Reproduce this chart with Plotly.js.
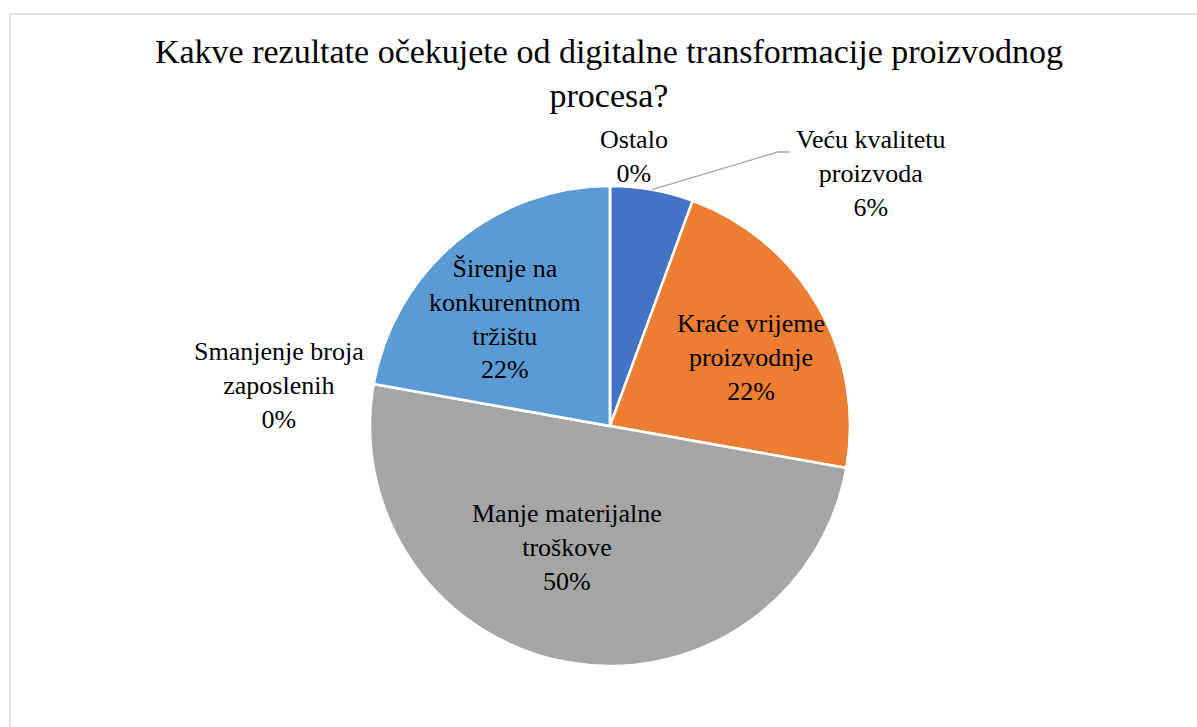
<!DOCTYPE html>
<html>
<head>
<meta charset="utf-8">
<script src="https://cdn.plot.ly/plotly-3.0.1.min.js"></script>
<style>html,body{margin:0;padding:0;background:#fff;}#chart{width:1197px;height:727px;}</style>
</head>
<body>
<div id="chart"></div>
<script>
// ---- data ----
const categories = ['Veću kvalitetu proizvoda', 'Kraće vrijeme proizvodnje', 'Manje materijalne troškove', 'Smanjenje broja zaposlenih', 'Širenje na konkurentnom tržištu', 'Ostalo'];
const values = [5.6, 22.2, 50, 0, 22.2, 0];
const colors = ['#4472C4', '#ED7D31', '#A5A5A5', '#FFC000', '#5B9BD5', '#70AD47'];
const titleText = 'Kakve rezultate očekujete od digitalne transformacije proizvodnog<br>procesa?';

// ---- layout helpers (style / positions) ----
const W = 1197, H = 727;
const CX = 610, CY = 426, R = 240;
const SERIF = 'Liberation Serif';
// words per line for wrapped labels
const wrapCounts = [[2, 1], [2, 1], [2, 1], [2, 1], [2, 1, 1], [1]];
// label block centres in pixels
const labelPos = [[870, 174], [751, 357], [567, 547], [279, 385], [505, 319], [634, 156]];

const px = x => x / W;
const py = y => 1 - y / H;
const total = values.reduce((a, b) => a + b, 0);

function wrap(name, counts) {
  const words = name.split(' ');
  const lines = [];
  let i = 0;
  counts.forEach(c => { lines.push(words.slice(i, i + c).join(' ')); i += c; });
  return lines.join('<br>');
}

const labelFont = {family: SERIF, size: 26, color: '#000000'};
const annotations = categories.map((name, i) => ({
  xref: 'paper', yref: 'paper',
  x: px(labelPos[i][0]), y: py(labelPos[i][1]),
  xanchor: 'center', yanchor: 'middle',
  text: wrap(name, wrapCounts[i]) + '<br>' + Math.round(values[i] / total * 100) + '%',
  showarrow: false, font: labelFont, align: 'center'
}));

// leader line for first slice: starts at the edge at slice mid-angle
const midAngle = (values[0] / 2) / total * 2 * Math.PI;
const sx = CX + R * Math.sin(midAngle), sy = CY - R * Math.cos(midAngle);
const leaderPath = 'M ' + px(sx) + ' ' + py(sy) + ' L ' + px(778) + ' ' + py(152) + ' L ' + px(790) + ' ' + py(152);

const shapes = [
  {type: 'path', xref: 'paper', yref: 'paper', path: leaderPath, line: {color: '#A6A6A6', width: 1.3}},
  {type: 'line', xref: 'paper', yref: 'paper', x0: px(10), x1: px(10), y0: py(14), y1: py(H + 5), line: {color: '#D9D9D9', width: 1.5}},
  {type: 'line', xref: 'paper', yref: 'paper', x0: px(10), x1: px(W + 5), y0: py(14), y1: py(14), line: {color: '#D9D9D9', width: 1.5}}
];

const trace = {
  type: 'pie',
  labels: categories,
  values: values,
  sort: false,
  direction: 'clockwise',
  rotation: 0,
  marker: {colors: colors, line: {color: '#FFFFFF', width: 2.5}},
  textinfo: 'none',
  hoverinfo: 'none',
  showlegend: false,
  domain: {x: [px(CX - R), px(CX + R)], y: [py(CY + R), py(CY - R)]}
};

const layout = {
  width: W, height: H,
  margin: {l: 0, r: 0, t: 0, b: 0},
  paper_bgcolor: '#FFFFFF',
  showlegend: false,
  font: {family: SERIF},
  title: {
    text: titleText,
    font: {family: SERIF, size: 34, color: '#000000'},
    x: px(609), xanchor: 'center',
    y: py(62.5), yanchor: 'top', yref: 'container'
  },
  annotations: annotations,
  shapes: shapes
};

Plotly.newPlot('chart', [trace], layout, {displayModeBar: false, staticPlot: true});
</script>
</body>
</html>
